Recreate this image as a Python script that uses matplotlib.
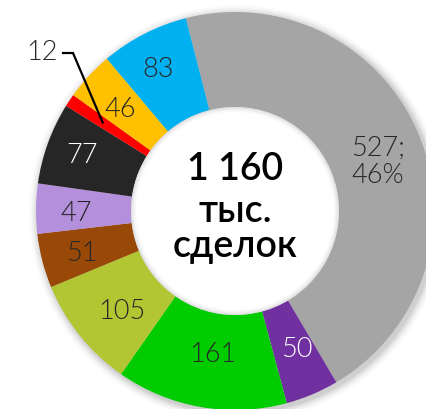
import numpy as np
import matplotlib
matplotlib.use("Agg")
import matplotlib.pyplot as plt
from matplotlib.patches import Circle, Wedge
import matplotlib.font_manager as fm

# ---- data ----
values = [527, 50, 161, 105, 51, 47, 77, 12, 46, 83]
labels = ["527;\n46%", "50", "161", "105", "51", "47", "77", "12", "46", "83"]
total_label = "1 160"
center_lines = ["тыс.", "сделок"]

# ---- style ----
colors = ["#A5A5A5", "#7030A0", "#00CC00", "#B2C634", "#984807",
          "#B48FDC", "#262626", "#FF0000", "#FFC000", "#00B0F0"]
text_colors = ["#262626", "white", "#262626", "#262626", "#262626",
               "#262626", "white", "#262626", "#262626", "#262626"]
# per-label radial distance (fraction of outer radius) and angular shift (deg)
label_r = [0.76, 0.76, 0.73, 0.76, 0.80, 0.80, 0.82, None, 0.77, 0.81]
label_dth = [-3.5, 1.3, 1.2, 3.0, 0.9, 1.5, 0.0, 0, 1.5, 1.3]

families = ["Lato", "DejaVu Sans"]
avail = {f.name for f in fm.fontManager.ttflist}
fam = [f for f in families if f in avail] or ["DejaVu Sans"]

W, H = 426, 409
cx, cy, R = 235, 211, 199
fig = plt.figure(figsize=(W / 100, H / 100), dpi=100)
ax = fig.add_axes([0, 0, 1, 1])
ax.axis("off")

# subtle outer shadow
for i, a in enumerate(np.linspace(0.05, 0.01, 6)):
    ax.add_patch(Circle((0.012, -0.012), 1.0 + 0.008 * (i + 1),
                        color="black", alpha=a, lw=0, zorder=0))

inner = 104 / R
wedges, _ = ax.pie(values, colors=colors, startangle=104.3, counterclock=False,
                   radius=1.0, wedgeprops=dict(width=1 - inner, linewidth=0),
                   normalize=True)
for w in wedges:
    w.set_zorder(2)
ax.set_xlim(-cx / R, (W - cx) / R)
ax.set_ylim(-(H - cy) / R, cy / R)
ax.set_aspect("equal")

# white hole + soft inner shadow
ax.add_patch(Circle((0, 0), inner, color="white", lw=0, zorder=2.5))
for i, a in enumerate(np.linspace(0.04, 0.008, 5)):
    ax.add_patch(Wedge((0, 0), inner, 0, 360, width=0.006 * (i + 1),
                       color="black", alpha=a, lw=0, zorder=3))

for w, lab, tc, r, dth in zip(wedges, labels, text_colors, label_r, label_dth):
    if r is None:
        continue
    th = np.deg2rad((w.theta1 + w.theta2) / 2 + dth)
    ax.text(r * np.cos(th), r * np.sin(th), lab, ha="center", va="center",
            fontsize=19.5, color=tc, family=fam, fontweight=300,
            linespacing=1.15, zorder=5)

# leader label for the small slice
i_small = 7
w = wedges[i_small]
th = np.deg2rad((w.theta1 + w.theta2) / 2)
px, py = 0.80 * np.cos(th), 0.80 * np.sin(th)
kx, ky = (73 - cx) / R, (cy - 53) / R
hx = (63 - cx) / R
ax.plot([hx, kx, px], [ky, ky, py], color="black", lw=1.6, zorder=6,
        solid_joinstyle="miter")
ax.text(hx - 0.025, ky, labels[i_small], ha="right", va="center", fontsize=19.5,
        color="#262626", family=fam, fontweight=300, zorder=6)

# centre text
kw = dict(ha="center", va="center", fontsize=27, color="black", family=fam,
          fontweight=600, zorder=6)
ax.text(0, (cy - 170) / R, total_label, **kw)
ax.text(0, (cy - 212) / R, center_lines[0], **kw)
ax.text(0, (cy - 247) / R, center_lines[1], **kw)

fig.savefig("out.png", dpi=100)
